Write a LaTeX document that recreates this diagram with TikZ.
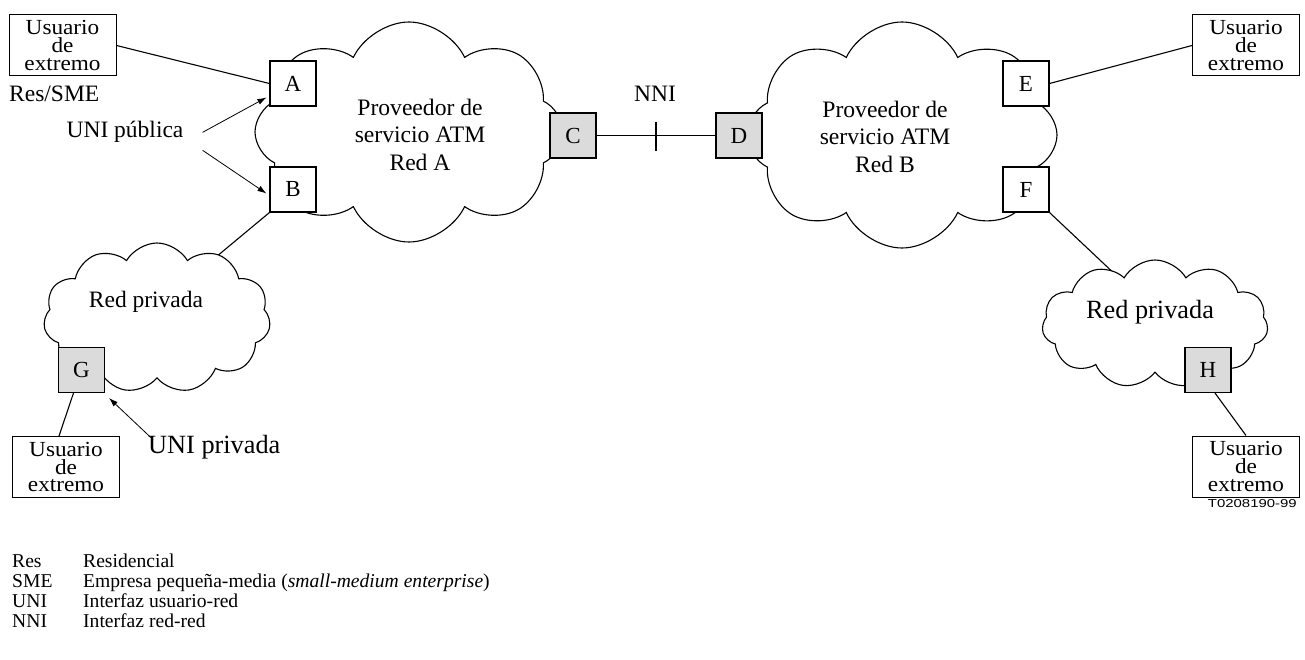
\documentclass[tikz,border=0pt]{standalone}
\usepackage{fontspec}
\setmainfont{Liberation Serif}
\newfontfamily\tagfont[FakeStretch=1.3]{Liberation Sans}
\newfontfamily\boxfont[FakeStretch=1.08]{Liberation Serif}
\usetikzlibrary{shapes.symbols,arrows.meta,calc,backgrounds}
\tikzset{
  cloudshape/.style={cloud, draw, fill=white, line width=1.1pt},
  port/.style={draw, line width=1.1pt, fill=white, minimum width=46pt, minimum height=45pt, inner sep=0pt, font=\fontsize{23}{27}\selectfont},
  gport/.style={port, fill=black!14},
  userbox/.style={draw, line width=1pt, fill=white, minimum width=107pt, minimum height=61pt, inner sep=0pt, align=center, font=\boxfont\fontsize{21.5}{17.7}\selectfont},
  lbl/.style={inner sep=0pt, font=\fontsize{23.5}{27.5}\selectfont},
  biglbl/.style={inner sep=0pt, font=\fontsize{26.3}{30}\selectfont},
  cloudtxt/.style={inner sep=0pt, align=center, font=\fontsize{23.6}{27.5}\selectfont},
  link/.style={line width=1.1pt},
  pointer/.style={line width=0.8pt, -{Latex[length=9pt,width=6pt]}},
  legtxt/.style={inner sep=0pt, anchor=base west, font=\fontsize{19.6}{20}\selectfont}
}
\begin{document}
\begin{tikzpicture}[x=1pt,y=-1pt]
\useasboundingbox (0,0) rectangle (1305,660);
% clouds
\node[cloudshape, cloud puffs=8, cloud puff arc=130, shape border rotate=22.5, minimum width=308pt, minimum height=220pt] (netA) at (409,132) {};
\node[cloudshape, cloud puffs=8, cloud puff arc=130, shape border rotate=22.5, minimum width=310pt, minimum height=226pt] (netB) at (902,135) {};
\node[cloudshape, cloud puffs=11, cloud puff arc=120, minimum width=227pt, minimum height=150pt] (privA) at (157,318) {};
\node[cloudshape, cloud puffs=11, cloud puff arc=120, minimum width=226pt, minimum height=128pt] (privB) at (1155,324) {};
% cloud texts
\node[cloudtxt] (tA) at (420,134.7) {Proveedor de\\servicio ATM\\Red A};
\node[cloudtxt] (tB) at (885,136.5) {Proveedor de\\servicio ATM\\Red B};
\node[lbl, anchor=base] (tpA) at (146,307) {Red privada};
\node[biglbl, anchor=base] (tpB) at (1150,318) {Red privada};
% user boxes
\node[userbox] (u1) at (62.5,45.5) {Usuario\\de\\extremo};
\node[userbox] (u2) at (1246,45.5) {Usuario\\de\\extremo};
\node[userbox] (u3) at (66,467) {Usuario\\de\\extremo};
\node[userbox] (u4) at (1246,466.5) {Usuario\\de\\extremo};
% ports
\node[port] (A) at (293,83.5) {A};
\node[port] (B) at (293,189.5) {B};
\node[gport] (C) at (573,135.5) {C};
\node[gport] (D) at (739,135.5) {D};
\node[port] (E) at (1026,83.5) {E};
\node[port] (F) at (1026,189.5) {F};
\node[gport] (G) at (81.5,370) {G};
\node[gport] (H) at (1208,370) {H};
% links (behind the clouds, which are filled white)
\coordinate (pa) at (210,262);
\coordinate (pb) at (1102,262);
\begin{scope}[on background layer]
\draw[link] (u1.east) -- (A.west);
\draw[link] (E.east) -- (u2.west);
\draw[link] (B.south west) -- ($(B.south west)!1.5!(pa)$);
\draw[link] (F.south east) -- ($(F.south east)!1.5!(pb)$);
\draw[link] ($(G.south)+(-8,0)$) -- ($(u3.north)+(-7,0)$);
\draw[link] ($(H.south)+(7,0)$) -- (u4.north);
\draw[link] (C.east) -- (D.west);
\end{scope}
\coordinate (nnimid) at ($(C.east)!0.5!(D.west)$);
\draw[link] ($(nnimid)+(0,-13)$) -- ($(nnimid)+(0,16)$);
\node[lbl, anchor=base] (nni) at (655,101.7) {NNI};
% labels
\node[lbl, anchor=base west] (res) at (9,101.7) {Res/SME};
\node[lbl, anchor=base] (unipub) at (125,138) {UNI pública};
\node[biglbl, anchor=base west] (unipriv) at (148,453) {UNI privada};
\draw[pointer] ($(unipub.east)+(19,0)$) -- ($(A.west)+(-3,14)$);
\draw[pointer] ($(unipub.east)+(19,18)$) -- ($(B.west)+(-3,4)$);
\draw[pointer] ($(unipriv.north west)+(5,5)$) -- ($(G.south east)+(4,5)$);
% tag
\node[inner sep=0pt, anchor=base east, font=\tagfont\fontsize{11.5}{12}\selectfont] (tag) at (1297,507) {T0208190-99};
% legend
\node[legtxt] (k1) at (12,567) {Res};
\node[legtxt] (v1) at (83,567) {Residencial};
\node[legtxt] (k2) at (12,587) {SME};
\node[legtxt] (v2) at (83,587) {Empresa pequeña-media (\textit{small-medium enterprise})};
\node[legtxt] (k3) at (12,607) {UNI};
\node[legtxt] (v3) at (83,607) {Interfaz usuario-red};
\node[legtxt] (k4) at (12,627) {NNI};
\node[legtxt] (v4) at (83,627) {Interfaz red-red};
\end{tikzpicture}
\end{document}
